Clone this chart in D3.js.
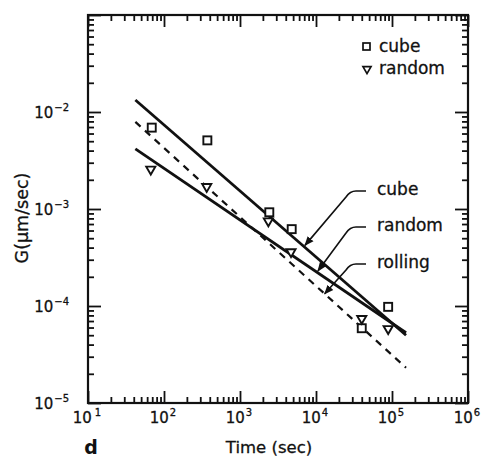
<!DOCTYPE html>
<html>
<head>
<meta charset="utf-8">
<script src="https://cdn.jsdelivr.net/npm/d3@7/dist/d3.min.js"></script>
<style>
  body { margin: 0; background: #fff; }
  svg { display: block; font-family: "DejaVu Sans", "Liberation Sans", Arial, sans-serif; }
  .lbl { fill: #111; stroke: #111; stroke-width: 0.3; }
</style>
</head>
<body>
<svg id="chart" width="487" height="459"></svg>
<script>
// Growth rate G vs time, log–log
const cubeTime  = [69, 372, 2430, 4790, 40000, 89000];
const cubeG     = [6.9e-3, 5.1e-3, 9.25e-4, 6.2e-4, 5.9e-5, 9.8e-5];
const randomTime = [67, 365, 2360, 4690, 40000, 89000];
const randomG    = [2.63e-3, 1.74e-3, 7.7e-4, 3.7e-4, 7.6e-5, 5.97e-5];

// Power-law fit lines: G at the first and last time
const fitNames  = ["cube", "random", "rolling"];
const fitTime   = [42, 1.53e5];
const fitStartG = [1.33e-2, 4.16e-3, 7.9e-3];
const fitEndG   = [5.0e-5, 5.3e-5, 2.31e-5];
const fitDashed = [false, false, true];
// times at which the labelled leader arrows touch each fit line
const arrowTime = [7160, 10600, 13000];

const xTickExps = [1, 2, 3, 4, 5, 6];
const yTickExps = [-5, -4, -3, -2];

const L = 88, R = 468, T = 15, B = 403;

const svg = d3.select("#chart");
const x = d3.scaleLog().domain([10, 1e6]).range([L, R]);
const y = d3.scaleLog().domain([1e-5, 1e-1]).range([B, T]);

// minor ticks 2..9 in every decade
function minors(lo, hi) {
  const out = [];
  for (let e = lo; e < hi; e++) for (let m = 2; m <= 9; m++) out.push(m * Math.pow(10, e));
  return out;
}
const xMinor = minors(1, 6), yMinor = minors(-5, -1);
const xMajor = d3.range(1, 7).map(e => Math.pow(10, e));
const yMajor = d3.range(-5, 0).map(e => Math.pow(10, e));

function styleAxis(g) {
  g.select(".domain").remove();
  g.selectAll("line").attr("stroke", "#111").attr("stroke-width", 1.8);
  g.selectAll("text").remove();
}
// inward ticks on all four sides
svg.append("g").attr("transform", `translate(0,${B})`).call(d3.axisBottom(x).tickValues(xMinor).tickSize(-6)).call(styleAxis);
svg.append("g").attr("transform", `translate(0,${B})`).call(d3.axisBottom(x).tickValues(xMajor).tickSize(-12)).call(styleAxis);
svg.append("g").attr("transform", `translate(0,${T})`).call(d3.axisTop(x).tickValues(xMinor).tickSize(-6)).call(styleAxis);
svg.append("g").attr("transform", `translate(0,${T})`).call(d3.axisTop(x).tickValues(xMajor).tickSize(-12)).call(styleAxis);
svg.append("g").attr("transform", `translate(${L},0)`).call(d3.axisLeft(y).tickValues(yMinor).tickSize(-6)).call(styleAxis);
svg.append("g").attr("transform", `translate(${L},0)`).call(d3.axisLeft(y).tickValues(yMajor).tickSize(-13)).call(styleAxis);
svg.append("g").attr("transform", `translate(${R},0)`).call(d3.axisRight(y).tickValues(yMinor).tickSize(-6)).call(styleAxis);
svg.append("g").attr("transform", `translate(${R},0)`).call(d3.axisRight(y).tickValues(yMajor).tickSize(-13)).call(styleAxis);

// frame
svg.append("rect").attr("x", L).attr("y", T).attr("width", R - L).attr("height", B - T)
  .attr("fill", "none").attr("stroke", "#111").attr("stroke-width", 2.2);

// tick labels with superscript exponents
function powLabel(sel, exp) {
  sel.append("tspan").text("10");
  sel.append("tspan").attr("font-size", 10).attr("dy", -7).attr("dx", exp === 1 ? 3 : 1)
    .text(exp < 0 ? "\u2212" + (-exp) : String(exp));
}
xTickExps.forEach(e => {
  const t = svg.append("text").attr("class", "lbl").attr("x", x(Math.pow(10, e)) - 1).attr("y", 423)
    .attr("text-anchor", "middle").attr("font-size", 15);
  powLabel(t, e);
});
yTickExps.forEach(e => {
  const t = svg.append("text").attr("class", "lbl").attr("x", 69).attr("y", y(Math.pow(10, e)) + 6)
    .attr("text-anchor", "end").attr("font-size", 15);
  powLabel(t, e);
});

// axis titles
svg.append("text").attr("class", "lbl").attr("x", 269).attr("y", 453).attr("text-anchor", "middle")
  .attr("font-size", 16.5).text("Time (sec)");
svg.append("text").attr("class", "lbl").attr("transform", `translate(28,218) rotate(-90)`).attr("text-anchor", "middle")
  .attr("font-size", 17.5).text("G(\u03bcm/sec)");
svg.append("text").attr("x", 91).attr("y", 454).attr("text-anchor", "middle")
  .attr("font-size", 19).attr("font-weight", "bold").attr("fill", "#111").text("d");

// fit lines
const line = d3.line().x(d => x(d[0])).y(d => y(d[1]));
fitNames.forEach((n, i) => {
  svg.append("path")
    .datum([[fitTime[0], fitStartG[i]], [fitTime[1], fitEndG[i]]])
    .attr("d", line).attr("fill", "none").attr("stroke", "#111")
    .attr("stroke-width", fitDashed[i] ? 2.2 : 2.8)
    .attr("stroke-dasharray", fitDashed[i] ? "7,6" : null);
});

// data markers
const sq = 8;
svg.append("g").selectAll("rect").data(d3.zip(cubeTime, cubeG)).join("rect")
  .attr("x", d => x(d[0]) - sq / 2).attr("y", d => y(d[1]) - sq / 2)
  .attr("width", sq).attr("height", sq)
  .attr("fill", "#fff").attr("stroke", "#111").attr("stroke-width", 1.9);
const tri = d3.symbol().type(d3.symbolTriangle).size(36);
svg.append("g").selectAll("path").data(d3.zip(randomTime, randomG)).join("path")
  .attr("d", tri)
  .attr("transform", d => `translate(${x(d[0])},${y(d[1]) + 1}) rotate(180)`)
  .attr("fill", "#fff").attr("stroke", "#111").attr("stroke-width", 1.9);

// legend
const lg = svg.append("g");
lg.append("rect").attr("x", 363).attr("y", 43).attr("width", 7).attr("height", 7)
  .attr("fill", "#fff").attr("stroke", "#111").attr("stroke-width", 1.7);
lg.append("path").attr("d", d3.symbol().type(d3.symbolTriangle).size(28)).attr("transform", "translate(367,69) rotate(180)")
  .attr("fill", "#fff").attr("stroke", "#111").attr("stroke-width", 1.7);
lg.append("text").attr("class", "lbl").attr("x", 379).attr("y", 52).attr("font-size", 17).text("cube");
lg.append("text").attr("class", "lbl").attr("x", 379).attr("y", 74).attr("font-size", 17).text("random");

// labelled leader arrows pointing to each fit line
svg.append("defs").append("marker").attr("id", "ah").attr("viewBox", "0 0 10 10")
  .attr("refX", 9).attr("refY", 5).attr("markerWidth", 6).attr("markerHeight", 6)
  .attr("orient", "auto").append("path").attr("d", "M0,1 L10,5 L0,9 Z").attr("fill", "#111");

const labelY = [195, 231, 268];
fitNames.forEach((n, i) => {
  const lt0 = Math.log10(fitTime[0]), lt1 = Math.log10(fitTime[1]);
  const lt = Math.log10(arrowTime[i]);
  const f = (lt - lt0) / (lt1 - lt0);
  const lg0 = Math.log10(fitStartG[i]), lg1 = Math.log10(fitEndG[i]);
  const gAt = Math.pow(10, lg0 + f * (lg1 - lg0));
  const tx = x(arrowTime[i]), ty = y(gAt) - (i === 2 ? 0 : 2);
  const sy = labelY[i] - 4;
  const p = d3.path();
  p.moveTo(366, sy);
  p.lineTo(356, sy);
  p.quadraticCurveTo(350, sy, 346, sy + 6);
  p.lineTo(tx, ty);
  svg.append("path").attr("d", p.toString()).attr("fill", "none").attr("stroke", "#111")
    .attr("stroke-width", 1.6).attr("marker-end", "url(#ah)");
  svg.append("text").attr("class", "lbl").attr("x", 377).attr("y", labelY[i]).attr("font-size", 17)
    .text(n);
});
</script>
</body>
</html>
